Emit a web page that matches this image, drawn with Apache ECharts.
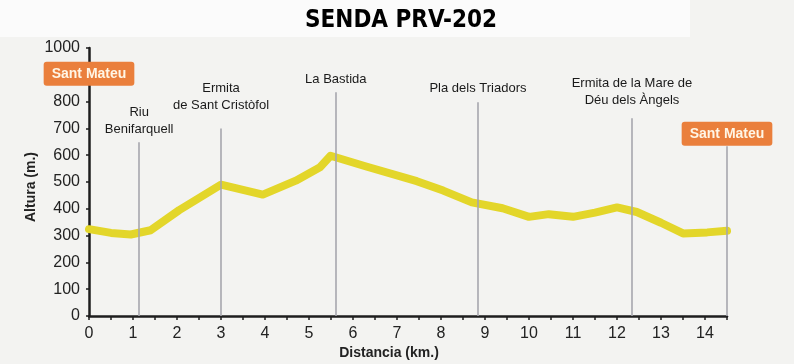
<!DOCTYPE html>
<html>
<head>
<meta charset="utf-8">
<script src="https://cdn.jsdelivr.net/npm/echarts@6/dist/echarts.min.js"></script>
<style>
html,body{margin:0;padding:0;background:#f2f2f0;}
#c{width:794px;height:364px;}
</style>
</head>
<body>
<div id="c"></div>
<script>
// Elevation profile (km, metres)
const profileKm  = [0, 0.5, 0.95, 1.4, 2.05, 3.0, 3.95, 4.7, 5.25, 5.49, 6.3, 7.45, 8.05, 8.7, 9.4, 10.0, 10.45, 11.0, 11.5, 12.0, 12.45, 13.0, 13.5, 14.05, 14.5];
const profileAlt = [324, 310, 304, 320, 395, 490, 453, 505, 555, 598, 558, 503, 468, 424, 402, 370, 380, 370, 386, 405, 388, 348, 308, 312, 318];

// Waypoints along the route
const waypointNames  = ['Riu\nBenifarquell', 'Ermita\nde Sant Cristòfol', 'La Bastida', 'Pla dels Triadors', 'Ermita de la Mare de\nDéu dels Àngels', 'Sant Mateu'];
const waypointKm     = [1.14, 3.0, 5.61, 8.84, 12.34, 14.5];
const waypointLineTop= [648, 700, 835, 798, 738, 633];
const waypointLabelY = [664, 754, 852, 818, 774, 680];

// Start / end badges
const badgeNames = ['Sant Mateu', 'Sant Mateu'];
const badgeKm    = [0, 14.5];
const badgeAlt   = [904, 680];

const xTicks = [0, 14.5, 0.5];   // min, max, tick step (labels at whole km)
const yTicks = [0, 1000, 100];

const chart = echarts.init(document.getElementById('c'), null, {renderer: 'canvas'});

const lineData = profileKm.map((k, i) => [k, profileAlt[i]]);
const markLines = waypointKm.map((k, i) => [{coord: [k, 0]}, {coord: [k, waypointLineTop[i]]}]);
const wpLabelData = waypointKm.slice(0, 5).map((k, i) => ({value: [k, waypointLabelY[i]], name: waypointNames[i]}));
const badgeData = badgeKm.map((k, i) => ({value: [k, badgeAlt[i]], name: badgeNames[i]}));

const FONT = '"Liberation Sans", Arial, sans-serif';

chart.setOption({
  backgroundColor: '#f3f3f1',
  animation: false,
  graphic: [
    {type: 'rect', left: 0, top: 0, shape: {width: 690, height: 37}, style: {fill: '#fbfbfb'}, z: -10},
    {type: 'text', left: 305, top: 9,
      style: {text: 'SENDA PRV-202', font: 'bold 24px "DejaVu Sans Condensed", "DejaVu Sans", sans-serif', fill: '#000'}},
    {type: 'text', x: 31, y: 187, rotation: Math.PI / 2,
      style: {text: 'Altura (m.)', font: 'bold 14px ' + FONT, fill: '#222', align: 'center', verticalAlign: 'middle'}},
    {type: 'text', x: 389, y: 353,
      style: {text: 'Distancia (km.)', font: 'bold 14px ' + FONT, fill: '#222', align: 'center', verticalAlign: 'middle'}}
  ],
  grid: {left: 89, right: 67, top: 48, bottom: 48, containLabel: false},
  xAxis: {
    type: 'value', min: xTicks[0], max: xTicks[1], interval: xTicks[2],
    axisLine: {show: true, lineStyle: {color: '#1e1e1e', width: 2.5}},
    axisTick: {show: true, length: 4, lineStyle: {color: '#1e1e1e', width: 1.5}},
    splitLine: {show: false},
    axisLabel: {
      fontSize: 16, color: '#222', fontFamily: FONT, margin: 10,
      formatter: v => (Math.abs(v - Math.round(v)) < 1e-9 && v <= 14) ? String(Math.round(v)) : ''
    }
  },
  yAxis: {
    type: 'value', min: yTicks[0], max: yTicks[1], interval: yTicks[2],
    axisLine: {show: true, lineStyle: {color: '#1e1e1e', width: 2.5}},
    axisTick: {show: true, length: 3, lineStyle: {color: '#1e1e1e', width: 1.5}},
    splitLine: {show: false},
    axisLabel: {fontSize: 16, color: '#222', fontFamily: FONT, margin: 9, formatter: v => String(v)}
  },
  series: [
    {
      type: 'scatter', z: 1, symbolSize: 0, silent: true,
      itemStyle: {opacity: 1},
      data: wpLabelData,
      label: {
        show: true, position: 'top', distance: 0,
        formatter: p => p.name, fontSize: 13, lineHeight: 17, color: '#1a1a1a', fontFamily: FONT, align: 'center'
      },
      markLine: {
        silent: true, symbol: ['none', 'none'], label: {show: false},
        lineStyle: {color: '#a6a6ae', width: 1.6, type: 'solid'},
        data: markLines
      }
    },
    {
      type: 'line', z: 3, data: lineData, showSymbol: false, smooth: false,
      lineStyle: {color: '#e3d62a', width: 8, cap: 'round', join: 'round'}
    },
    {
      type: 'scatter', z: 10, symbolSize: 0, silent: true,
      itemStyle: {opacity: 1},
      data: badgeData,
      label: {
        show: true, position: 'inside', formatter: p => p.name,
        fontSize: 14, fontWeight: 'bold', color: '#fff6e6', fontFamily: FONT,
        backgroundColor: '#ea7f3c', padding: [5, 8, 5, 8], borderRadius: 3
      }
    }
  ]
});
</script>
</body>
</html>
